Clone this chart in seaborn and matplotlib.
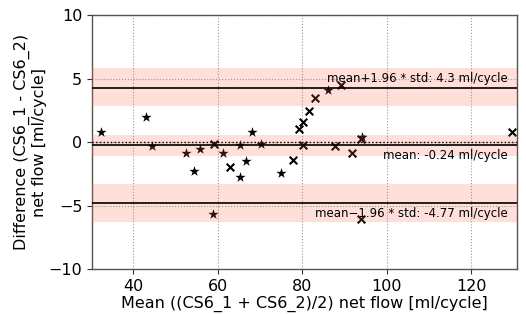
import numpy as np
import pandas as pd
import matplotlib
matplotlib.use("Agg")
import matplotlib.pyplot as plt
import seaborn as sns

# ---- data ----
star_mean = [32.4, 43.0, 44.4, 52.5, 54.3, 55.7, 58.9, 61.2, 65.2, 65.2, 66.7, 68.1, 70.3, 74.9, 86.0, 94.2]
star_diff = [0.80, 1.95, -0.33, -0.85, -2.30, -0.57, -5.63, -0.88, -0.18, -2.77, -1.46, 0.83, -0.12, -2.43, 4.13, 0.40]
cross_mean = [59.1, 63.0, 77.9, 79.3, 80.2, 80.2, 81.6, 83.1, 87.7, 89.3, 91.9, 94.0, 94.0, 129.6]
cross_diff = [-0.15, -1.95, -1.38, 1.04, 1.62, -0.20, 2.43, 3.48, -0.28, 4.47, -0.83, 0.25, -6.05, 0.80]

mean_diff = -0.24
loa_upper = 4.30
loa_lower = -4.77
ci_mean = (-1.12, 0.59)
ci_upper = (2.82, 5.84)
ci_lower = (-6.31, -3.27)

label_upper = "mean+1.96 * std: 4.3 ml/cycle"
label_mean = "mean: -0.24 ml/cycle"
label_lower = "mean\u22121.96 * std: -4.77 ml/cycle"

xticks = [40, 60, 80, 100, 120]
yticks = [-10, -5, 0, 5, 10]

df_star = pd.DataFrame({"mean": star_mean, "diff": star_diff})
df_cross = pd.DataFrame({"mean": cross_mean, "diff": cross_diff})

sns.set_style("white", rc={"text.color": "black", "axes.labelcolor": "black",
                           "xtick.color": "black", "ytick.color": "black"})
plt.rcParams["font.family"] = ["DejaVu Sans"]

fig = plt.figure(figsize=(5.26, 3.14), dpi=100)
ax = fig.add_axes([0.175, 0.142, 0.808, 0.810])

sns.scatterplot(data=df_star, x="mean", y="diff", marker="*", color="black",
                s=60, linewidth=0, ax=ax, zorder=2)
sns.scatterplot(data=df_cross, x="mean", y="diff", marker="x", color="black",
                s=30, linewidth=1.5, ax=ax, zorder=2)

band_color = "tomato"
for lo, hi in (ci_mean, ci_upper, ci_lower):
    ax.axhspan(lo, hi, color=band_color, alpha=0.2, lw=0, zorder=3)

ax.axhline(0, color="black", ls=":", lw=1.0, zorder=4)
for v in (mean_diff, loa_upper, loa_lower):
    ax.axhline(v, color="black", lw=1.2, zorder=4)

tx = 0.979
fs_ann = 8.5
ax.annotate(label_upper, xy=(tx, loa_upper), xycoords=("axes fraction", "data"),
            xytext=(0, 2), textcoords="offset points", ha="right", va="bottom",
            fontsize=fs_ann, zorder=5)
ax.annotate(label_mean, xy=(tx, mean_diff), xycoords=("axes fraction", "data"),
            xytext=(0, -3), textcoords="offset points", ha="right", va="top",
            fontsize=fs_ann, zorder=5)
ax.annotate(label_lower, xy=(tx, loa_lower), xycoords=("axes fraction", "data"),
            xytext=(0, -3), textcoords="offset points", ha="right", va="top",
            fontsize=fs_ann, zorder=5)

ax.set_xlim(30.2, 130.9)
ax.set_ylim(-10, 10)
ax.set_xticks(xticks)
ax.set_yticks(yticks)
ax.grid(True, ls=":", color="#999999", lw=0.8, zorder=0)
ax.set_axisbelow(True)
ax.tick_params(axis="both", labelsize=11.5, length=3.5, width=0.8, color="#333333",
               bottom=True, left=True)
for sp in ax.spines.values():
    sp.set_visible(True)
    sp.set_color("#555555")
    sp.set_linewidth(1.0)

ax.set_xlabel("Mean ((CS6_1 + CS6_2)/2) net flow [ml/cycle]", fontsize=11.5, labelpad=1)
ax.set_ylabel("Difference (CS6_1 - CS6_2)\nnet flow [ml/cycle]", fontsize=11.5, labelpad=1)

fig.savefig("out.png", dpi=100)
